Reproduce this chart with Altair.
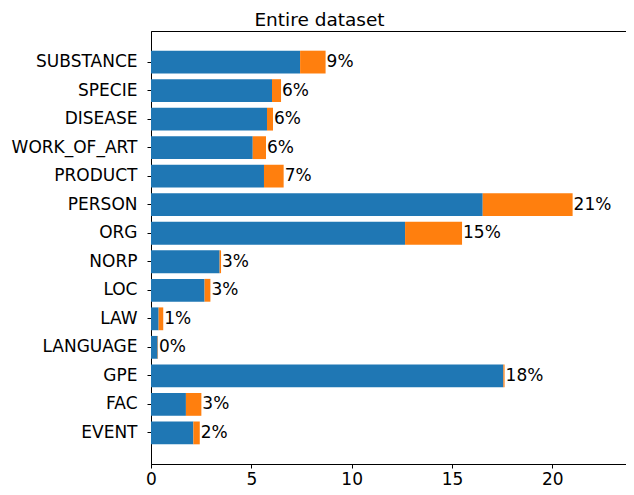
import altair as alt
import pandas as pd

categories = ["SUBSTANCE", "SPECIE", "DISEASE", "WORK_OF_ART", "PRODUCT", "PERSON",
              "ORG", "NORP", "LOC", "LAW", "LANGUAGE", "GPE", "FAC", "EVENT"]
blue_vals = [7.43, 6.03, 5.78, 5.07, 5.63, 16.53, 12.66, 3.42, 2.67, 0.38, 0.33, 17.56, 1.74, 2.11]
totals = [8.70, 6.48, 6.08, 5.73, 6.61, 21.01, 15.50, 3.49, 2.96, 0.61, 0.35, 17.62, 2.51, 2.43]
labels = ["9%", "6%", "6%", "6%", "7%", "21%", "15%", "3%", "3%", "1%", "0%", "18%", "3%", "2%"]
x_ticks = [0, 5, 10, 15, 20]

df = pd.DataFrame({"cat": categories, "blue": blue_vals, "total": totals, "label": labels})
df["zero"] = 0.0

FONT = "DejaVu Sans"
FS = 17

y = alt.Y("cat:N", sort=categories, title=None,
          scale=alt.Scale(paddingInner=0.2, paddingOuter=0.69),
          axis=alt.Axis(labelFontSize=FS, labelFont=FONT, labelColor="black",
                        tickSize=4, tickColor="black", labelPadding=10,
                        domainColor="black", grid=False))
xscale = alt.Scale(domain=[0, 23.67], nice=False, zero=True)
xaxis = alt.Axis(values=x_ticks, labelFontSize=FS, labelFont=FONT, labelFlush=False,
                 labelColor="black", tickSize=4, tickColor="black", labelPadding=3,
                 domainColor="black", grid=False, title=None)

base = alt.Chart(df)
blue = base.mark_bar(color="#1f77b4").encode(
    x=alt.X("zero:Q", scale=xscale, axis=xaxis), x2="blue:Q", y=y)
orange = base.mark_bar(color="#ff7f0e").encode(
    x=alt.X("blue:Q", scale=xscale, axis=xaxis), x2="total:Q", y=y)
text = base.mark_text(align="left", baseline="middle", dx=1, fontSize=FS,
                      font=FONT, color="black").encode(
    x=alt.X("total:Q", scale=xscale, axis=xaxis), y=y, text="label:N")

chart = alt.layer(blue, orange, text).properties(
    width=475, height=433,
    title=alt.TitleParams("Entire dataset", fontSize=18.5, font=FONT, fontWeight="normal",
                          color="black", anchor="middle", dx=-69, offset=2),
    autosize=alt.AutoSizeParams(type="none"),
    padding={"left": 143, "top": 23, "right": 0, "bottom": 23},
).configure_view(stroke="black", strokeWidth=1)

chart.save("out.html", embed_options={"renderer": "svg", "actions": False})
